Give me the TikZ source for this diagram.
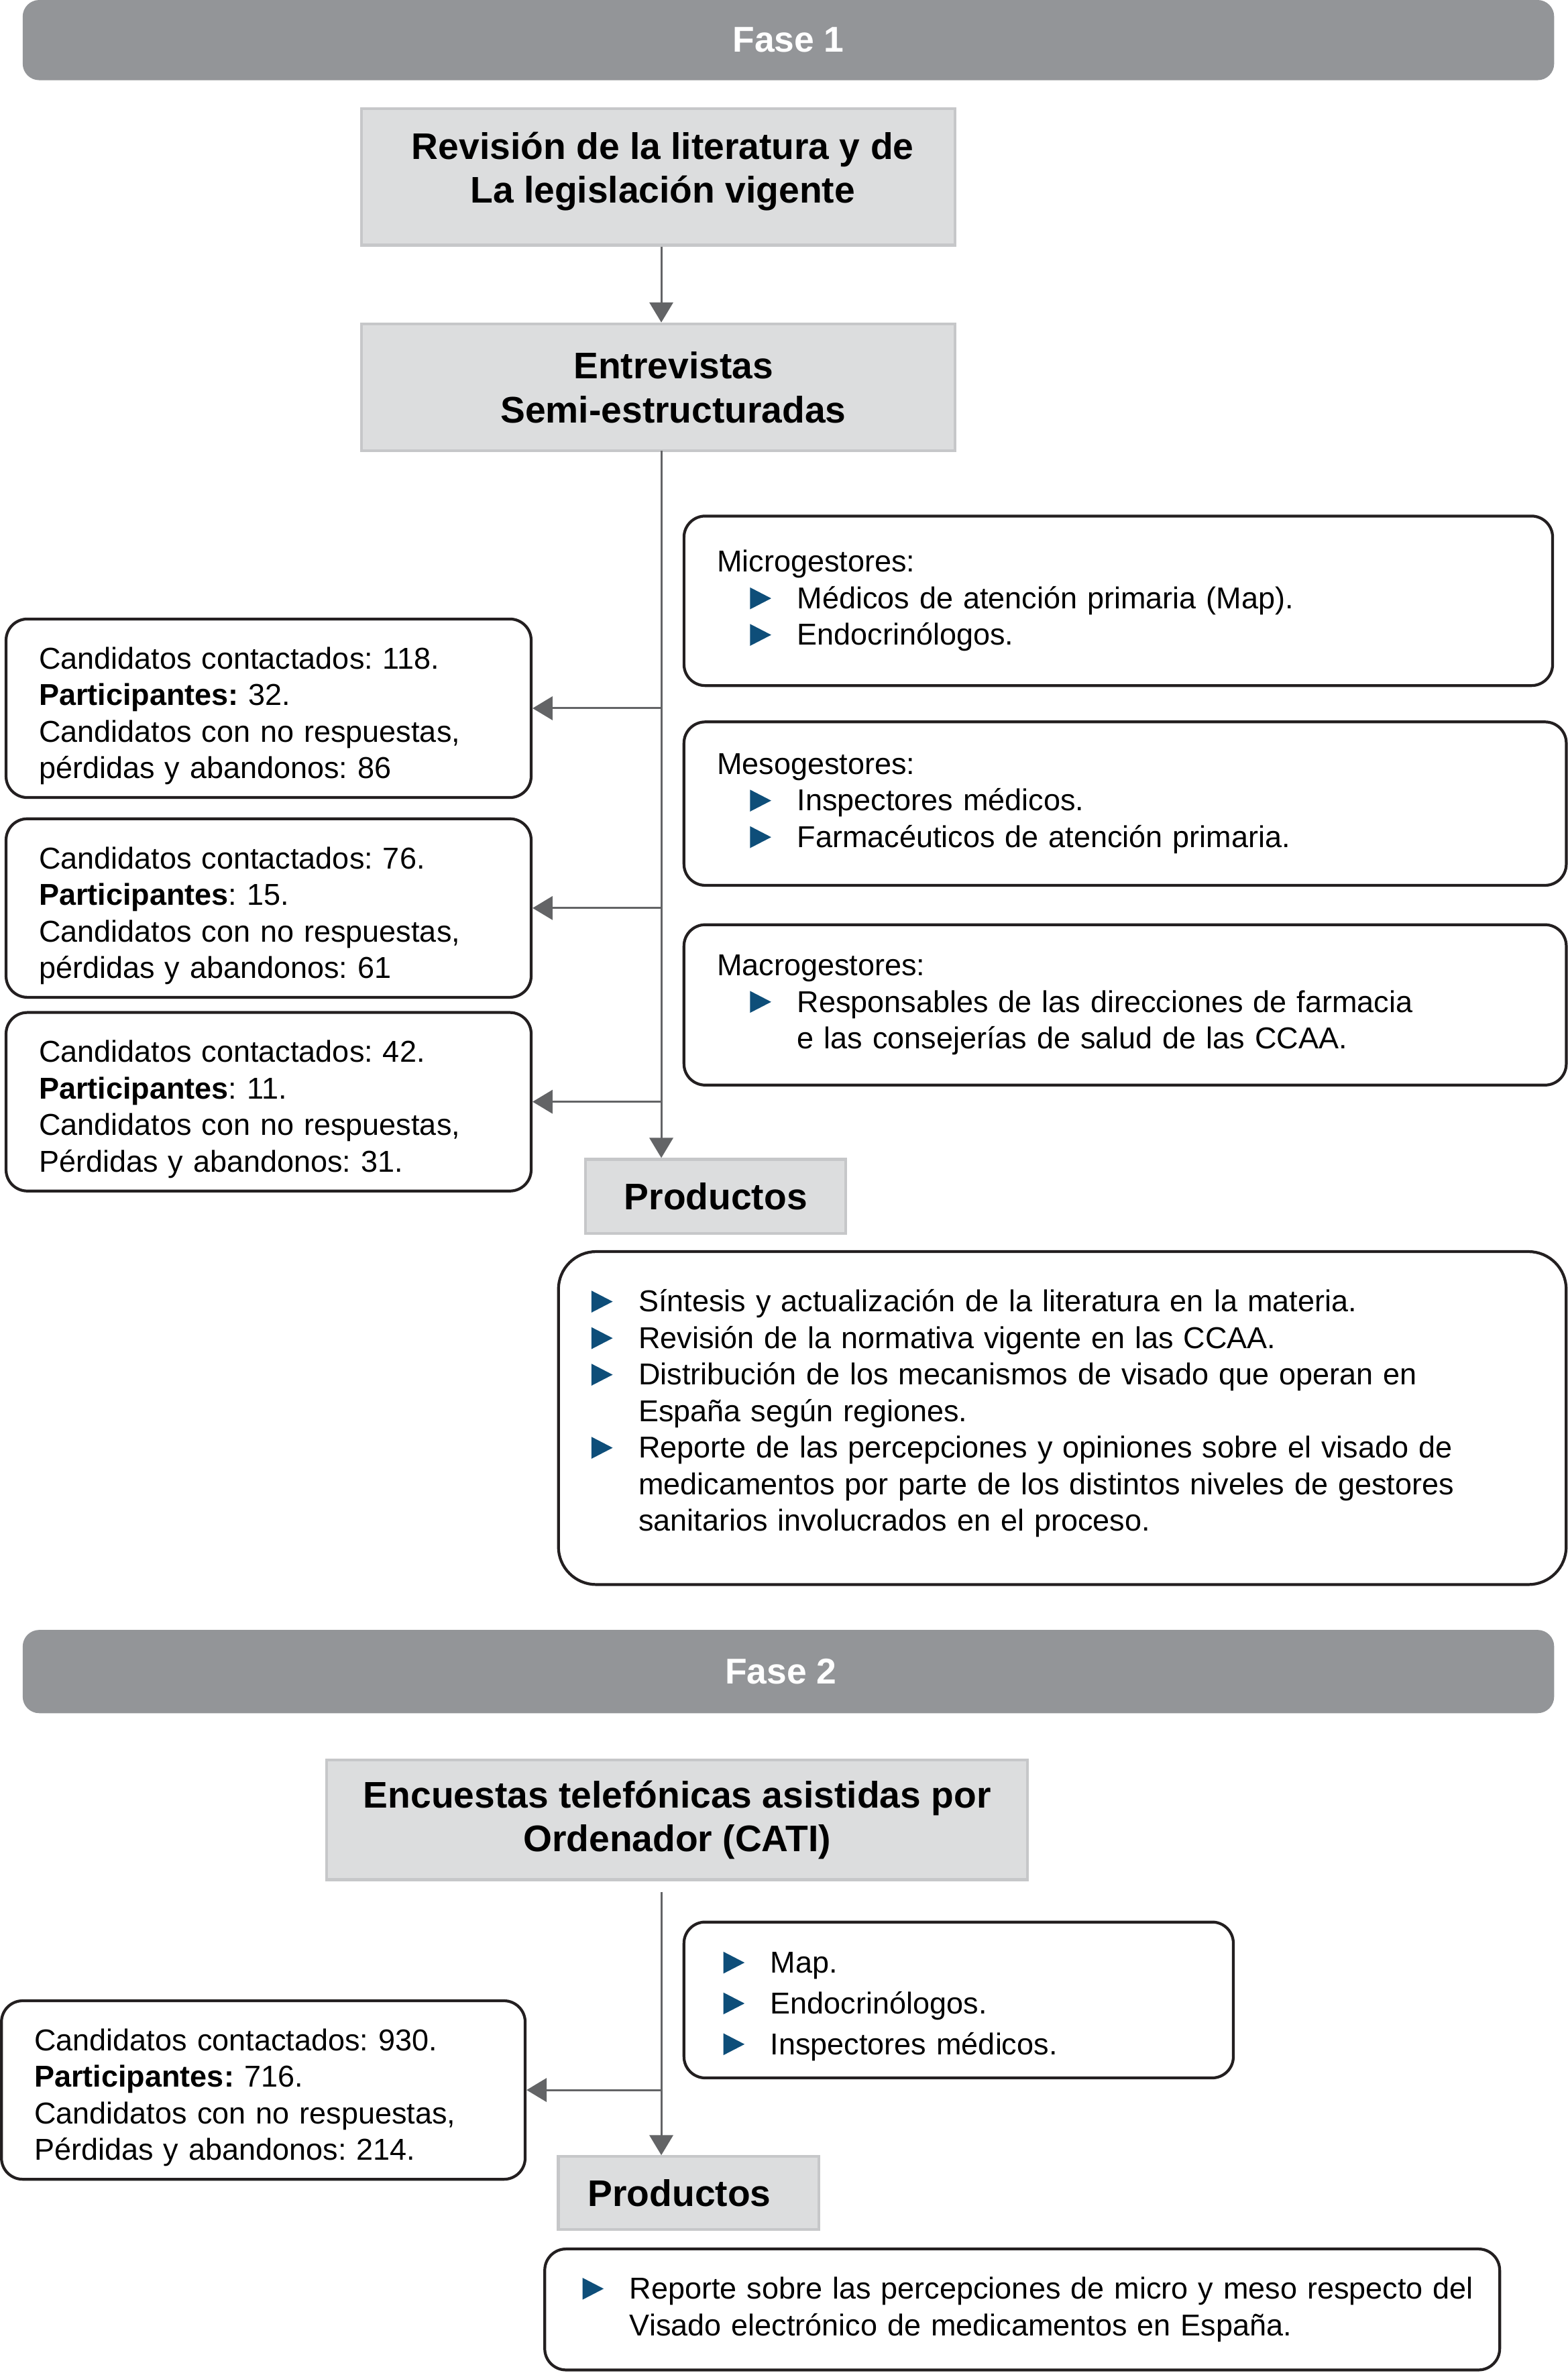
\documentclass[tikz,border=0pt]{standalone}
\usepackage{fontspec}
\setmainfont{Liberation Sans}
\usetikzlibrary{arrows.meta}
\definecolor{bannergray}{HTML}{939598}
\definecolor{boxgray}{HTML}{DCDDDE}
\definecolor{boxedge}{HTML}{C6C7C9}
\definecolor{linegray}{HTML}{636466}
\definecolor{edgeblack}{HTML}{231F20}
\definecolor{bulblue}{HTML}{0E4E79}
\newcommand\bul{\makebox[20pt][l]{\tikz[baseline=0pt,sharp corners]\fill[bulblue,draw=none] (0pt,-0.3pt) -- (0pt,9pt) -- (9pt,4.35pt) -- cycle;}}
\newcommand\ind{\hspace*{20pt}}
\newcommand\sub{\hspace*{14pt}}
\newcommand\tops[1]{\rule{0pt}{#1}}
\newcommand\bots[1]{\rule[-#1]{0pt}{0pt}}
\begin{document}
\frenchspacing
\begin{tikzpicture}[x=0.6418pt,y=-0.6418pt,
  banner/.style={fill=bannergray, rounded corners=7pt, minimum width=649.5pt, minimum height=34pt, text=white, font=\bfseries\fontsize{15.2pt}{18pt}\selectfont, inner sep=0pt},
  graybox/.style={fill=boxgray, draw=boxedge, line width=1.2pt, align=center, font=\bfseries\fontsize{15.7pt}{18.6pt}\selectfont, inner sep=0pt},
  wbox/.style={draw=edgeblack, line width=1.2pt, fill=white, rounded corners=9pt, align=left, font=\fontsize{12.8pt}{15.5pt}\selectfont, inner xsep=14pt, inner ysep=0pt},
  arr/.style={draw=linegray, line width=0.85pt, -{Triangle[length=8.5pt,width=10pt]}}]
\useasboundingbox (0,0) rectangle (1036,1568);

% ---------------- Fase 1 ----------------
\node[banner] (f1) at (521,26.5) {Fase 1};
\node[graybox, minimum width=251.6pt, minimum height=57.8pt] (rev) at (435,117) {\hspace*{3.8pt}Revisión de la literatura y de\\\hspace*{3.8pt}La legislación vigente\bots{8pt}};
\node[graybox, minimum width=251.6pt, minimum height=53.9pt] (ent) at (435,256) {\hspace*{12.8pt}Entrevistas\\\hspace*{12.8pt}Semi-estructuradas};

\node[wbox, text width=194.7pt, minimum height=75.7pt] (c1) at (177.5,468) {\tops{15.7pt}Candidatos contactados: 118.\\\textbf{Participantes:} 32.\\Candidatos con no respuestas,\\pérdidas y abandonos: 86};
\node[wbox, text width=194.7pt, minimum height=75.7pt] (c2) at (177.5,600) {\tops{15.7pt}Candidatos contactados: 76.\\\textbf{Participantes}: 15.\\Candidatos con no respuestas,\\pérdidas y abandonos: 61};
\node[wbox, text width=194.7pt, minimum height=75.7pt] (c3) at (177.5,728) {\tops{15.7pt}Candidatos contactados: 42.\\\textbf{Participantes}: 11.\\Candidatos con no respuestas,\\Pérdidas y abandonos: 31.};

\node[wbox, text width=340.4pt, minimum height=71.9pt] (mic) at (739,397) {Microgestores:\\\sub\bul Médicos de atención primaria (Map).\\\sub\bul Endocrinólogos.};
\node[wbox, text width=346.2pt, minimum height=69.3pt] (mes) at (743.5,531) {Mesogestores:\\\sub\bul Inspectores médicos.\\\sub\bul Farmacéuticos de atención primaria.};
\node[wbox, text width=346.2pt, minimum height=68pt] (mac) at (743.5,664) {Macrogestores:\\\sub\bul Responsables de las direcciones de farmacia\\\sub\ind e las consejerías de salud de las CCAA.};

\node[graybox, minimum width=110.4pt, minimum height=31.4pt] (prod1) at (473,790.5) {Productos};
\node[wbox, rounded corners=16pt, text width=399.4pt, minimum height=141.2pt] (res1) at (702,937) {\bul Síntesis y actualización de la literatura en la materia.\\\bul Revisión de la normativa vigente en las CCAA.\\\bul Distribución de los mecanismos de visado que operan en\\\ind España según regiones.\\\bul Reporte de las percepciones y opiniones sobre el visado de\\\ind medicamentos por parte de los distintos niveles de gestores\\\ind sanitarios involucrados en el proceso.\bots{6.5pt}};

\coordinate (v1) at (437,298);
\draw[arr] (rev.south -| v1) -- (ent.north -| v1);
\draw[arr] (v1) -- (v1 |- prod1.north);
\draw[arr] (v1 |- c1.east) -- (c1.east);
\draw[arr] (v1 |- c2.east) -- (c2.east);
\draw[arr] (v1 |- c3.east) -- (c3.east);

% ---------------- Fase 2 ----------------
\node[banner, minimum height=35.3pt] (f2) at (521,1104.5) {Fase 2\hspace*{6.4pt}};
\node[graybox, minimum width=297.2pt, minimum height=50.7pt] (enc) at (447.5,1202.5) {Encuestas telefónicas asistidas por\\Ordenador (CATI)};
\node[wbox, inner xsep=16.7pt, text width=199.6pt, minimum height=66.1pt, font=\fontsize{12.8pt}{17.3pt}\selectfont] (grp) at (633.5,1321.5) {\tops{14.3pt}\bul Map.\\\bul Endocrinólogos.\\\bul Inspectores médicos.};
\node[wbox, text width=194.1pt, minimum height=75.7pt] (c4) at (174,1381) {\tops{15.7pt}Candidatos contactados: 930.\\\textbf{Participantes:} 716.\\Candidatos con no respuestas,\\Pérdidas y abandonos: 214.};
\node[graybox, minimum width=110.4pt, minimum height=30.8pt] (prod2) at (455,1449) {Productos\hspace*{7.7pt}};
\node[wbox, inner xsep=16pt, text width=373pt, minimum height=51.3pt] (res2) at (675.5,1526) {\mbox{\bul Reporte sobre las percepciones de micro y meso respecto del}\\\ind Visado electrónico de medicamentos en España.};

\coordinate (v2) at (437,1250);
\draw[arr] (v2) -- (v2 |- prod2.north);
\draw[arr] (v2 |- c4.east) -- (c4.east);
\end{tikzpicture}
\end{document}
